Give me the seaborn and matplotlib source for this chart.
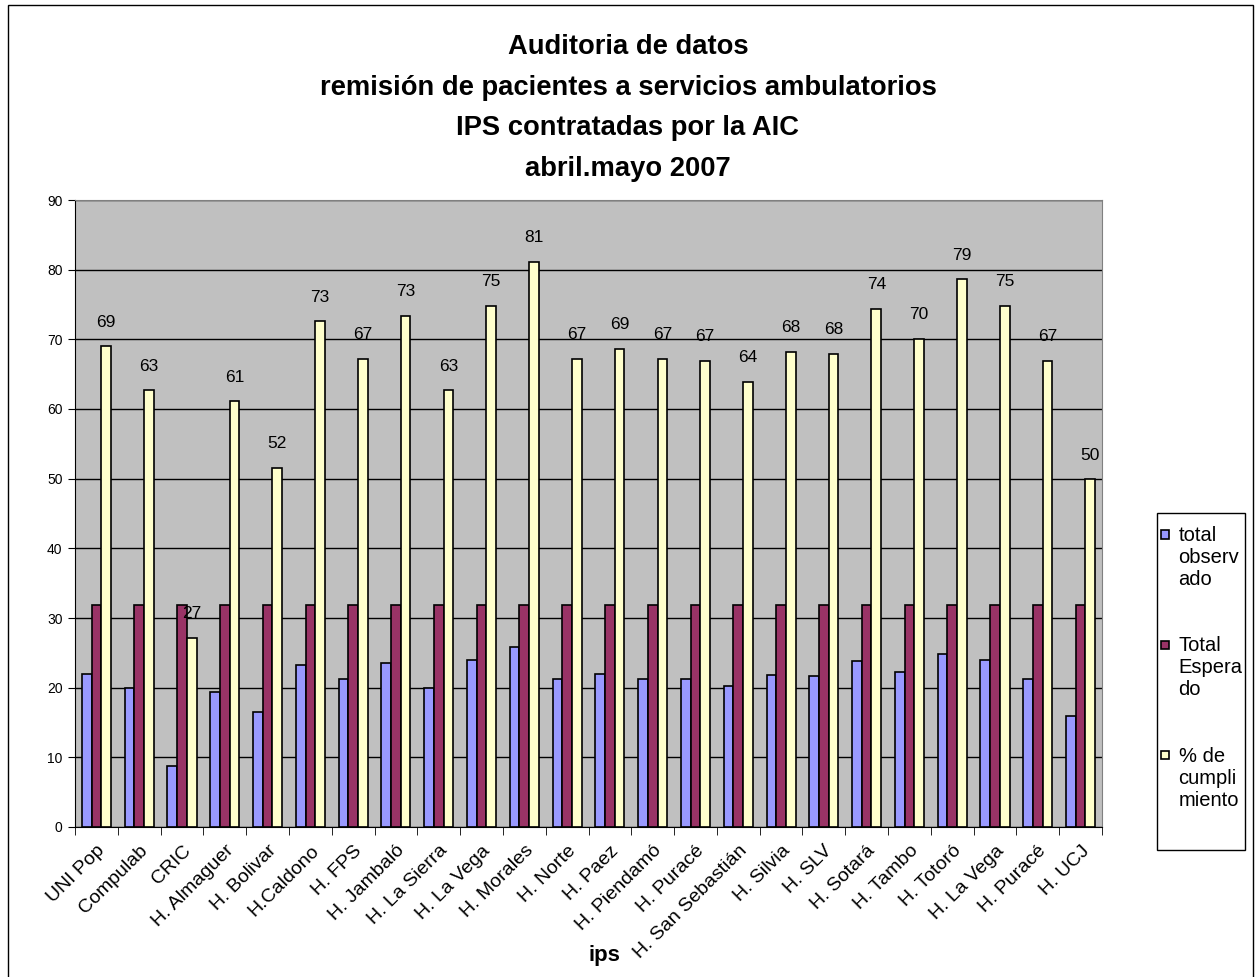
import numpy as np
import pandas as pd
import seaborn as sns
import matplotlib.pyplot as plt
import matplotlib.transforms as mtransforms
from matplotlib.patches import Rectangle
from matplotlib.legend_handler import HandlerPatch

#--- data ---
ips = ["UNI Pop", "Compulab", "CRIC", "H. Almaguer", "H. Bolivar", "H.Caldono",
       "H. FPS", "H. Jambaló", "H. La Sierra", "H. La Vega", "H. Morales",
       "H. Norte", "H. Paez", "H. Piendamó", "H. Puracé", "H. San Sebastián",
       "H. Silvia", "H. SLV", "H. Sotará", "H. Tambo", "H. Totoró",
       "H. La Vega", "H. Puracé", "H. UCJ"]
total_observado = [22.0, 20.0, 8.7, 19.4, 16.5, 23.2, 21.3, 23.5, 20.0, 23.9, 25.8,
                   21.3, 22.0, 21.3, 21.3, 20.3, 21.8, 21.7, 23.8, 22.2, 24.9,
                   23.9, 21.3, 16.0]
total_esperado = [31.8, 31.8, 31.8, 31.8, 31.8, 31.8, 31.8, 31.8, 31.8, 31.8, 31.8,
                  31.8, 31.8, 31.8, 31.8, 31.8, 31.8, 31.8, 31.8, 31.8, 31.8,
                  31.8, 31.8, 31.8]
pct_cumplimiento = [69.0, 62.7, 27.2, 61.1, 51.6, 72.6, 67.2, 73.4, 62.7, 74.8, 81.1,
                    67.2, 68.6, 67.2, 66.9, 63.9, 68.2, 67.9, 74.4, 70.1, 78.6,
                    74.8, 66.9, 49.9]
series = ["total\nobserv\nado", "Total\nEspera\ndo", "% de\ncumpli\nmiento"]
colors = ["#9999FF", "#993366", "#FFFFCC"]

pos = list(range(len(ips)))
data = pd.DataFrame({"pos": pos,
                     series[0]: total_observado,
                     series[1]: total_esperado,
                     series[2]: pct_cumplimiento})
long = data.melt(id_vars="pos", var_name="serie", value_name="valor")

sns.set_style("white")
plt.rcParams["font.family"] = ["Liberation Sans", "DejaVu Sans"]
plt.rcParams["text.color"] = "black"
plt.rcParams["xtick.color"] = "black"
plt.rcParams["ytick.color"] = "black"
narrow = ["Liberation Sans Narrow", "Liberation Sans", "DejaVu Sans"]

fig = plt.figure(figsize=(12.6, 9.77), dpi=100)
ax = fig.add_axes([75/1260, 1-827/977, 1027/1260, 627/977])
ax.set_facecolor("#C0C0C0")

sns.barplot(data=long, x="pos", y="valor", hue="serie", hue_order=series,
            palette=colors, saturation=1, errorbar=None, width=0.68,
            edgecolor="black", linewidth=1.2, ax=ax)

ax.set_ylim(0, 90)
ax.set_xlim(-0.5, len(ips)-0.5)
ax.set_yticks(np.arange(0, 91, 10))
ax.yaxis.grid(True, color="black", linewidth=1)
ax.set_axisbelow(True)
for lab in ax.get_yticklabels():
    lab.set_family(narrow)
ax.tick_params(axis="y", labelsize=10, length=5, direction="out", left=True,
               color="black", pad=4)

ax.set_xticks(pos)
ax.set_xticklabels(ips, rotation=45, ha="right", va="top",
                   rotation_mode="anchor", fontsize=14)
shift = mtransforms.ScaledTranslation(-5/100, 0, fig.dpi_scale_trans)
for lab in ax.get_xticklabels():
    lab.set_transform(lab.get_transform() + shift)
ax.set_xticks(np.arange(-0.5, len(ips), 1), minor=True)
ax.tick_params(axis="x", which="major", length=0, pad=11)
ax.tick_params(axis="x", which="minor", length=6, direction="out", bottom=True,
               color="black")
ax.set_xlabel("")
ax.set_ylabel("")

for s in ["top", "right"]:
    ax.spines[s].set_color("#808080")
for s in ["left", "bottom"]:
    ax.spines[s].set_color("black")

# value labels over the % bars
ax.bar_label(ax.containers[2], labels=["%.0f" % v for v in pct_cumplimiento],
             padding=12, fontsize=12.5, family=narrow, color="black")


# legend: small square next to the first line of each label
def top_square(legend, orig_handle, xdescent, ydescent, width, height, fontsize):
    return Rectangle((-xdescent, 1.3*fontsize), width, width)


handles, labels = ax.get_legend_handles_labels()
ax.legend(handles, labels, loc="upper left",
          bbox_to_anchor=(1161/1260, 1-526/977), bbox_transform=fig.transFigure,
          frameon=False, fontsize=14.5, handlelength=0.42, handleheight=0.7,
          handletextpad=0.45, labelspacing=2.35, borderpad=0, borderaxespad=0,
          handler_map={h: HandlerPatch(patch_func=top_square) for h in handles})
fig.patches.append(Rectangle((1157/1260, 1-850/977), 88/1260, 337/977,
                             transform=fig.transFigure, fill=False,
                             edgecolor="black", linewidth=1))

fig.text(628/1260, 1-34/977,
         "Auditoria de datos\nremisión de pacientes a servicios ambulatorios\n"
         "IPS contratadas por la AIC\nabril.mayo 2007",
         ha="center", va="top", fontsize=19.7, fontweight="bold", linespacing=1.73)
fig.text(604/1260, 1-955/977, "ips", ha="center", va="center",
         fontsize=16, fontweight="bold")

fig.patches.append(Rectangle((8/1260, -0.01), 1245/1260, 1-5/977+0.01,
                             transform=fig.transFigure, fill=False,
                             edgecolor="black", linewidth=1))

plt.savefig("out.png", dpi=100)
